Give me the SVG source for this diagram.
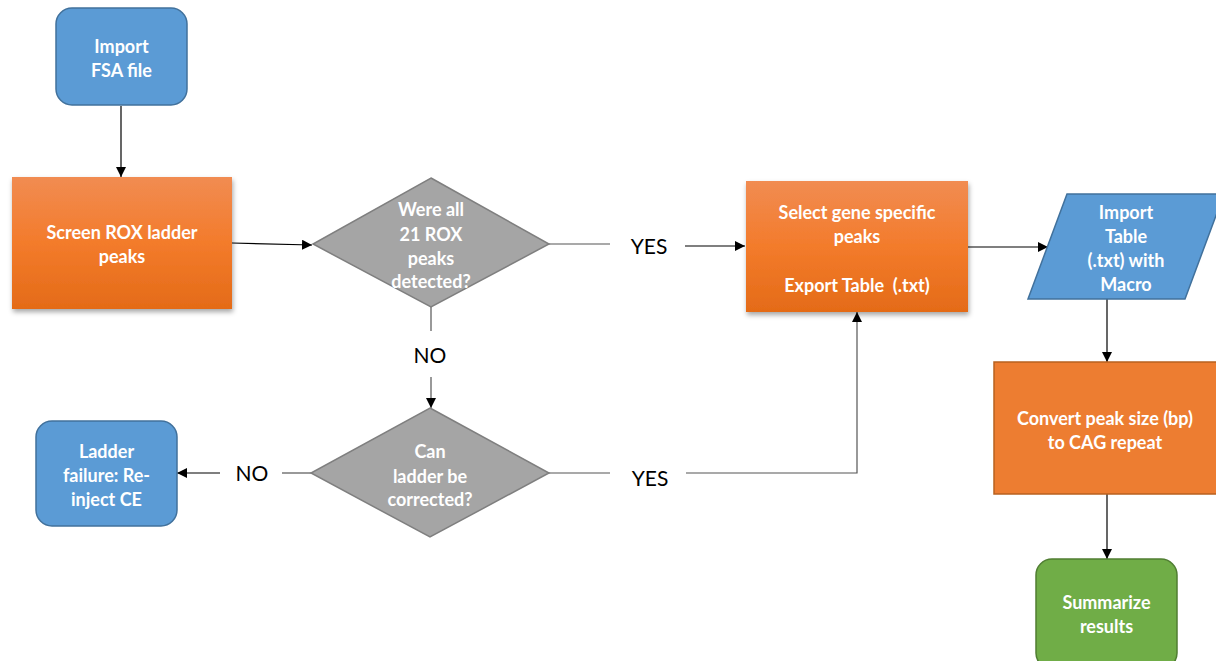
<svg xmlns="http://www.w3.org/2000/svg" width="1216" height="661" viewBox="0 0 1216 661">
<defs>
<linearGradient id="og" x1="0" y1="0" x2="0" y2="1">
<stop offset="0" stop-color="#f18c52"/>
<stop offset="0.5" stop-color="#f37b2b"/>
<stop offset="1" stop-color="#e46b18"/>
</linearGradient>
<filter id="sh" x="-10%" y="-10%" width="125%" height="130%">
<feDropShadow dx="1" dy="3" stdDeviation="2.5" flood-color="#000" flood-opacity="0.35"/>
</filter>
<marker id="ah" viewBox="0 0 10 10" refX="10" refY="5" markerWidth="10" markerHeight="10" markerUnits="userSpaceOnUse" orient="auto">
<path d="M0,0 L10,5 L0,10 z" fill="#000"/>
</marker>
</defs>
<style>
.t{font-family:Lato,"Liberation Sans",sans-serif;font-weight:bold;font-size:18px;fill:#fff;text-anchor:middle;dominant-baseline:central;white-space:pre}
.l{font-family:Lato,"Liberation Sans",sans-serif;font-size:21px;fill:#000;text-anchor:middle;dominant-baseline:central}
.c{fill:none;stroke:#000;stroke-width:1.2}
.g{fill:none;stroke:#555;stroke-width:1.2}
.blue{fill:#5b9bd5;stroke:#41719c;stroke-width:1.5}
.gray{fill:#a5a5a5;stroke:#7f7f7f;stroke-width:1.5}
</style>
<rect width="1216" height="661" fill="#fff"/>
<g id="connectors">
<line class="c" x1="121" y1="106" x2="121" y2="177" marker-end="url(#ah)"/>
<line class="c" x1="232" y1="243" x2="312" y2="245" marker-end="url(#ah)"/>
<line class="g" x1="549" y1="244" x2="610" y2="244"/>
<line class="c" x1="685" y1="246" x2="745" y2="246" marker-end="url(#ah)"/>
<line class="c" x1="968" y1="247" x2="1048" y2="247" marker-end="url(#ah)"/>
<line class="c" x1="1107" y1="299" x2="1107" y2="362" marker-end="url(#ah)"/>
<line class="c" x1="1107" y1="494" x2="1107" y2="559" marker-end="url(#ah)"/>
<line class="g" x1="431" y1="307" x2="431" y2="331"/>
<line class="g" x1="431" y1="377" x2="431" y2="408" marker-end="url(#ah)"/>
<line class="g" x1="311" y1="473" x2="282" y2="473"/>
<line class="c" x1="220" y1="473" x2="177" y2="473" marker-end="url(#ah)"/>
<line class="g" x1="549" y1="473" x2="610" y2="473"/>
<polyline class="g" points="686,473 857,473 857,312" marker-end="url(#ah)"/>
<text class="l" x="649" y="245">YES</text>
<text class="l" x="650" y="477">YES</text>
<text class="l" x="430" y="354">NO</text>
<text class="l" x="252" y="472">NO</text>
</g>
<g id="import-fsa">
<rect class="blue" x="56" y="8" width="131" height="97" rx="16"/>
<text class="t" x="121.5" y="46">Import</text>
<text class="t" x="121.5" y="70">FSA file</text>
</g>
<g id="screen-rox">
<rect x="12" y="177" width="220" height="132" fill="url(#og)" filter="url(#sh)"/>
<text class="t" x="122" y="232">Screen ROX ladder</text>
<text class="t" x="122" y="256">peaks</text>
</g>
<g id="decision-21">
<polygon class="gray" points="431,178 549,244 431,307 313,244"/>
<text class="t" x="431" y="209">Were all</text>
<text class="t" x="431" y="234">21 ROX</text>
<text class="t" x="431" y="258">peaks</text>
<text class="t" x="431" y="281">detected?</text>
</g>
<g id="select-gene">
<rect x="746" y="181" width="222" height="131" fill="url(#og)" filter="url(#sh)"/>
<text class="t" x="857" y="212">Select gene specific</text>
<text class="t" x="857" y="236">peaks</text>
<text class="t" x="857" y="285">Export Table  (.txt)</text>
</g>
<g id="import-table">
<polygon class="blue" points="1067,194 1224,194 1185,299 1028,299"/>
<text class="t" x="1126" y="212">Import</text>
<text class="t" x="1126" y="236">Table</text>
<text class="t" x="1126" y="260">(.txt) with</text>
<text class="t" x="1126" y="284">Macro</text>
</g>
<g id="convert">
<rect x="994" y="362" width="224" height="132" fill="#ed7d31" stroke="#b8611f" stroke-width="1.5"/>
<text class="t" x="1105" y="418">Convert peak size (bp)</text>
<text class="t" x="1105" y="442">to CAG repeat</text>
</g>
<g id="summarize">
<rect x="1036" y="559" width="141" height="110" rx="16" fill="#70ad47" stroke="#507e32" stroke-width="1.5"/>
<text class="t" x="1106.5" y="602">Summarize</text>
<text class="t" x="1106.5" y="626">results</text>
</g>
<g id="decision-correct">
<polygon class="gray" points="430,408 549,473 430,537 311,473"/>
<text class="t" x="430" y="451">Can</text>
<text class="t" x="430" y="476">ladder be</text>
<text class="t" x="430" y="499">corrected?</text>
</g>
<g id="ladder-failure">
<rect class="blue" x="36" y="421" width="141" height="105" rx="16"/>
<text class="t" x="106.5" y="451">Ladder</text>
<text class="t" x="106.5" y="475">failure: Re-</text>
<text class="t" x="106.5" y="499">inject CE</text>
</g>
</svg>
